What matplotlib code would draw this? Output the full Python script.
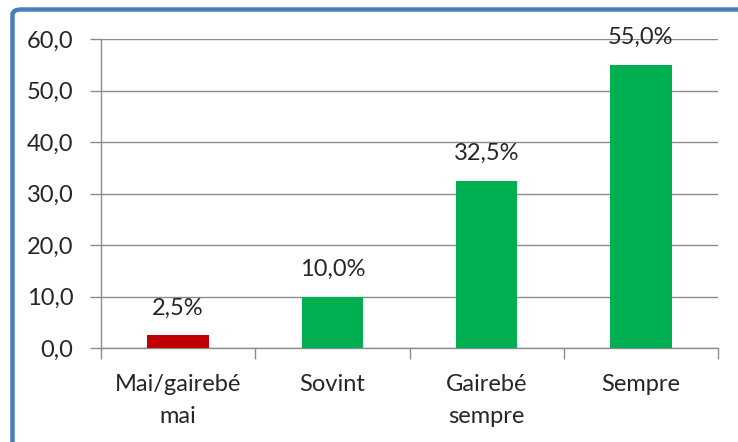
import matplotlib
matplotlib.use("Agg")
import matplotlib.pyplot as plt
from matplotlib.patches import FancyBboxPatch

categories = ["Mai/gairebé\nmai", "Sovint", "Gairebé\nsempre", "Sempre"]
values = [2.5, 10.0, 32.5, 55.0]
colors = ["#c00000", "#00b050", "#00b050", "#00b050"]
yticks = [0, 10, 20, 30, 40, 50, 60]

plt.rcParams['font.family'] = ['Lato', 'DejaVu Sans']
W, H = 738, 442
FS = 17
fig = plt.figure(figsize=(W / 100, H / 100), dpi=100)
ax = fig.add_axes([101 / W, 1 - 348 / H, (718 - 101) / W, (348 - 39) / H])

x = list(range(len(categories)))
ax.bar(x, values, width=0.4, color=colors, zorder=3)
for xi, v in zip(x, values):
    ax.annotate(f"{v:.1f}%".replace(".", ","), (xi, v), xytext=(0, 12),
                textcoords="offset points", ha="center", va="bottom",
                fontsize=FS, color="#262626", zorder=5)

ax.set_xlim(-0.5, len(categories) - 0.5)
ax.set_ylim(0, 60)
ax.set_yticks(yticks)
ax.set_yticklabels([f"{t:.1f}".replace(".", ",") for t in yticks], fontsize=FS, color="#262626")
ax.set_xticks(x)
ax.set_xticklabels(categories, fontsize=FS, color="#262626", linespacing=1.6)
ax.tick_params(axis="x", length=0, pad=19)
ax.set_xticks([i - 0.5 for i in range(len(categories) + 1)], minor=True)
ax.tick_params(axis="x", which="minor", length=8, color="#8c8c8c", width=1)
ax.tick_params(axis="y", length=8, color="#8c8c8c", width=1, pad=12)
ax.grid(axis="y", color="#8c8c8c", linewidth=1, zorder=0)
for s in ["top", "right"]:
    ax.spines[s].set_visible(False)
for s in ["left", "bottom"]:
    ax.spines[s].set_color("#8c8c8c")
    ax.spines[s].set_linewidth(1)

frame = FancyBboxPatch((12.5 / W, -0.1), 1.2, 1 - 9.5 / H + 0.1,
                       boxstyle="round,pad=0,rounding_size=0.012",
                       transform=fig.transFigure, fill=False,
                       edgecolor="#4a7ebb", linewidth=3.2, clip_on=False)
fig.patches.append(frame)

fig.savefig("out.png", dpi=100)
